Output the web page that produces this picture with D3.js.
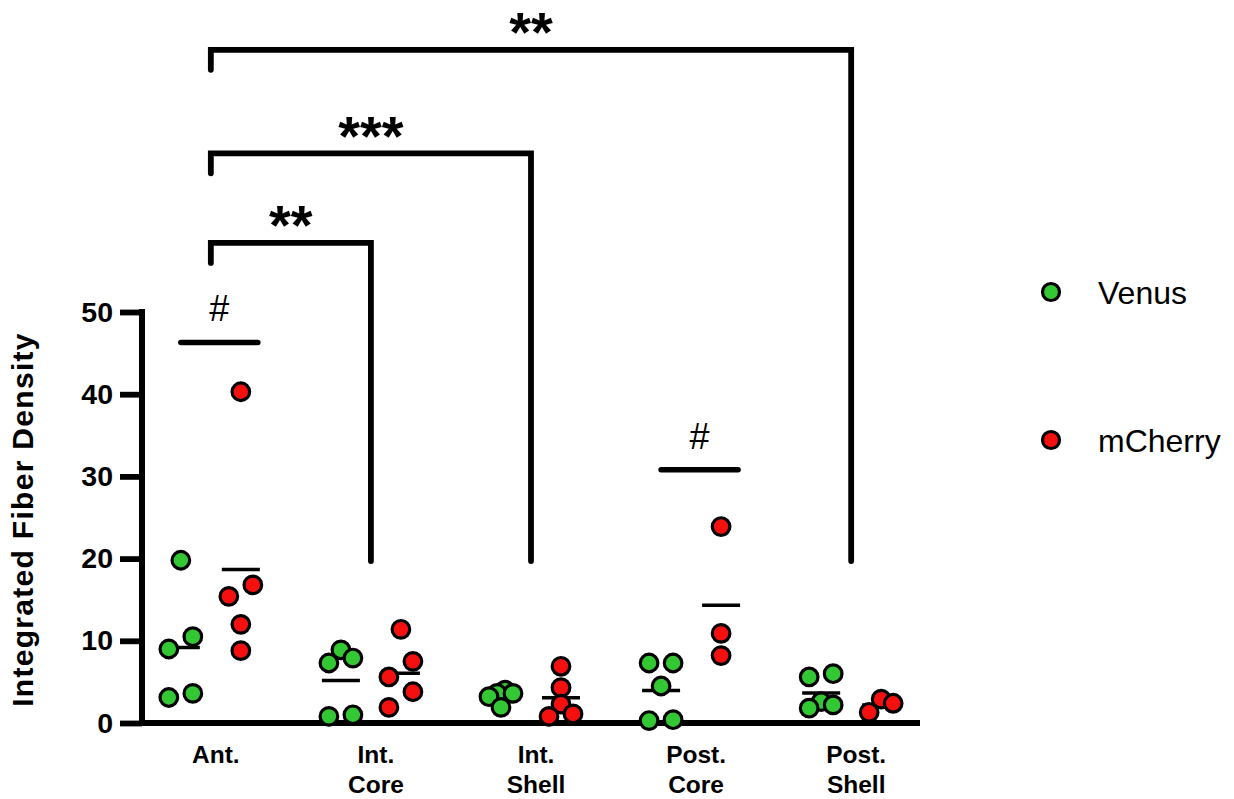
<!DOCTYPE html>
<html lang="en">
<head>
<meta charset="UTF-8">
<title>Integrated Fiber Density</title>
<script src="https://d3js.org/d3.v7.min.js"></script>
<style>
  body { margin: 0; background: #fff; }
  svg text { font-family: "Liberation Sans", Arial, sans-serif; fill: #000; }
  .tick text { font-size: 28.5px; font-weight: bold; }
  .cat { font-size: 24.5px; font-weight: bold; }
  .title { font-size: 30px; font-weight: bold; letter-spacing: 1.3px; }
  .legend { font-size: 32px; }
  .stars { font-size: 56px; font-weight: bold; }
  .hash { font-size: 36px; }
</style>
</head>
<body>
<svg></svg>
<script>
  // data
  const categories = ["Ant.", "Int. Core", "Int. Shell", "Post. Core", "Post. Shell"];
  const catLines = [["Ant."], ["Int.", "Core"], ["Int.", "Shell"], ["Post.", "Core"], ["Post.", "Shell"]];
  const seriesNames = ["Venus", "mCherry"];
  const seriesColors = ["#33c833", "#f51010"];
  const venus = [
    [19.8, 10.5, 9.0, 3.6, 3.1],
    [8.9, 7.9, 7.3, 1.0, 0.8],
    [4.0, 3.6, 3.6, 3.2, 1.9],
    [7.3, 7.3, 4.5, 0.4, 0.3],
    [6.0, 5.6, 2.6, 2.2, 1.8]
  ];
  const mcherry = [
    [40.3, 16.8, 15.4, 12.0, 8.8],
    [11.4, 7.5, 5.6, 3.8, 1.9],
    [6.9, 4.3, 2.3, 1.1, 0.8],
    [23.9, 10.9, 8.2],
    [2.9, 2.4, 1.3]
  ];
  const yTicks = [0, 10, 20, 30, 40, 50];
  const hashCats = ["Ant.", "Post. Core"];
  const hashLevels = [46.3, 30.8];
  const bracketTo = ["Int. Core", "Int. Shell", "Post. Shell"];
  const bracketStars = ["**", "***", "**"];
  const bracketLevels = [58.4, 69.3, 81.9];
  const bracketEnd = 19.7;

  const width = 1234, height = 799;
  const svg = d3.select("svg").attr("width", width).attr("height", height);

  const y = d3.scaleLinear().domain([0, 50]).range([723, 312]);
  const x = d3.scalePoint().domain(categories).range([142, 920]).padding(0.43);
  const sub = d3.scalePoint().domain(seriesNames).range([-30, 30]);

  // y axis
  const yAxis = svg.append("g").attr("transform", "translate(142,0)")
    .call(d3.axisLeft(y).tickValues(yTicks).tickSize(22).tickSizeOuter(0).tickPadding(7));
  yAxis.select(".domain").remove();
  yAxis.selectAll(".tick line").attr("stroke", "#000").attr("stroke-width", 5.8);
  yAxis.selectAll(".tick text").attr("font-family", null).attr("font-size", null);
  svg.append("line").attr("x1", 142).attr("x2", 142)
    .attr("y1", y(50) - 2.9).attr("y2", y(0) + 2.9)
    .attr("stroke", "#000").attr("stroke-width", 6);
  // x axis
  svg.append("line").attr("x1", 142).attr("x2", 920).attr("y1", y(0)).attr("y2", y(0))
    .attr("stroke", "#000").attr("stroke-width", 5.8);

  svg.append("text").attr("class", "title")
    .attr("transform", "translate(33," + (y(25) + 2) + ") rotate(-90)")
    .attr("text-anchor", "middle").text("Integrated Fiber Density");

  const cl = svg.selectAll(".cat").data(categories).join("text").attr("class", "cat")
    .attr("text-anchor", "middle")
    .attr("x", d => x(d) + 5).attr("y", 763);
  cl.selectAll("tspan").data((d, i) => catLines[i]).join("tspan")
    .attr("x", function() { return this.parentNode.getAttribute("x"); })
    .attr("dy", (d, j) => j ? 30 : 0).text(d => d);

  // prism-like scatter layout: points close in y share a row and spread sideways
  function swarm(vals) {
    const pts = vals.map(v => ({ v, py: y(v) })).sort((a, b) => b.v - a.v);
    const rows = [];
    pts.forEach(p => {
      const r = rows[rows.length - 1];
      if (r && p.py - r[0].py < 16) r.push(p); else rows.push([p]);
    });
    rows.forEach(r => {
      const n = r.length;
      const sp = n > 1 ? 24 / (n - 1) : 0;
      const order = n % 2
        ? d3.range(n).map(i => i === 0 ? 0 : (i % 2 ? 1 : -1) * Math.ceil(i / 2))
        : d3.range(n).map(i => (i % 2 ? -1 : 1) * (Math.floor(i / 2) + 0.5));
      r.forEach((p, i) => p.dx = order[i] * sp);
    });
    return pts;
  }

  const groups = [];
  categories.forEach((c, ci) => {
    [venus[ci], mcherry[ci]].forEach((vals, si) => {
      groups.push({ cat: c, s: si, vals, mean: d3.mean(vals), pts: swarm(vals) });
    });
  });

  // means
  svg.selectAll(".mean").data(groups).join("line").attr("class", "mean")
    .attr("x1", d => x(d.cat) + sub(seriesNames[d.s]) - 19)
    .attr("x2", d => x(d.cat) + sub(seriesNames[d.s]) + 19)
    .attr("y1", d => y(d.mean)).attr("y2", d => y(d.mean))
    .attr("stroke", "#000").attr("stroke-width", 3.5);

  // dots
  const g = svg.selectAll(".grp").data(groups).join("g").attr("class", "grp");
  g.selectAll("circle").data(d => d.pts.map(p => ({ ...p, cat: d.cat, s: d.s }))).join("circle")
    .attr("cx", d => x(d.cat) + sub(seriesNames[d.s]) + d.dx)
    .attr("cy", d => d.py).attr("r", 8.8)
    .attr("fill", d => seriesColors[d.s]).attr("stroke", "#000").attr("stroke-width", 3.2);

  // # marks
  hashCats.forEach((c, i) => {
    const ly = y(hashLevels[i]);
    svg.append("line").attr("x1", x(c) - 30).attr("x2", x(c) + 47)
      .attr("y1", ly).attr("y2", ly)
      .attr("stroke", "#000").attr("stroke-width", 5.5).attr("stroke-linecap", "round");
    svg.append("text").attr("class", "hash").attr("text-anchor", "middle")
      .attr("x", x(c) + 8.5).attr("y", ly - 21).text("#");
  });

  // significance brackets
  bracketTo.forEach((c, i) => {
    const x0 = x(categories[0]), x1 = x(c), by = y(bracketLevels[i]);
    svg.append("path")
      .attr("d", d3.line()([[x0, by + 20], [x0, by], [x1, by], [x1, y(bracketEnd)]]))
      .attr("fill", "none").attr("stroke", "#000").attr("stroke-width", 5.8)
      .attr("stroke-linecap", "round").attr("stroke-linejoin", "miter");
    svg.append("text").attr("class", "stars").attr("text-anchor", "middle")
      .attr("x", (x0 + x1) / 2).attr("y", by + 1.5).text(bracketStars[i]);
  });

  // legend
  const lg = svg.selectAll(".lg").data(seriesNames).join("g").attr("class", "lg")
    .attr("transform", (d, i) => "translate(1051," + (292 + i * 148) + ")");
  lg.append("circle").attr("r", 8.5).attr("fill", (d, i) => seriesColors[i])
    .attr("stroke", "#000").attr("stroke-width", 3.2);
  lg.append("text").attr("class", "legend").attr("x", 47).attr("y", 11.5).text(d => d);
</script>
</body>
</html>
